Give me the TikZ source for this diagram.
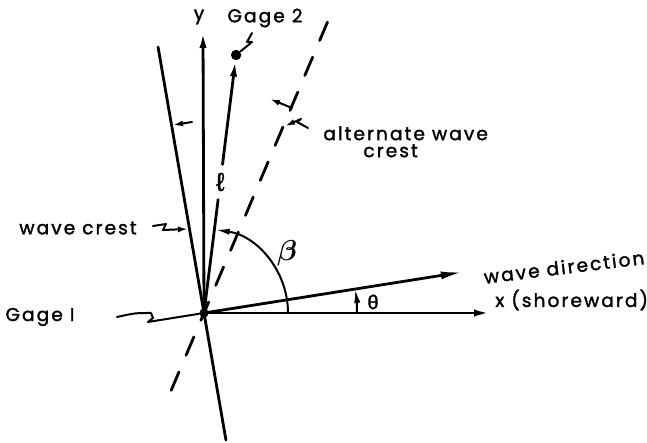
\documentclass[tikz,border=0pt]{standalone}
\usepackage{amsmath}
\usepackage{fontspec}
\newfontfamily\lettering[LetterSpace=11, FakeBold=1.6]{Poppins}
\newfontfamily\greekletter[FakeBold=1.6]{Liberation Sans}
\usetikzlibrary{arrows.meta, calc}

\begin{document}
\begin{tikzpicture}[
    x=0.5pt, y=0.5pt,
    line cap=round,
    axis/.style={-{Latex[length=8pt,width=3.6pt]}, line width=1.4pt},
    crest/.style={line width=1.4pt},
    angarc/.style={-{Latex[length=7pt,width=3.2pt]}, line width=1pt},
    lead/.style={line width=1pt, line join=round},
    leadarr/.style={lead, -{Latex[length=5pt,width=3pt]}},
    label/.style={font=\lettering\fontsize{9.3}{8.5}\selectfont, inner sep=0pt},
    greek/.style={font=\greekletter\fontsize{10}{12}\selectfont, inner sep=0pt},
    dot/.style={circle, fill, inner sep=0pt, minimum size=#1}
  ]
  \useasboundingbox (0,0) rectangle (647,443);

  \coordinate (O) at (204,130);
  \coordinate (xend) at (490,130);
  \coordinate (yend) at (203,411);
  \coordinate (wdir) at ($(O)+(9:262)$);
  \coordinate (crtop) at ($(O)+(99.8:270)$);
  \coordinate (crbot) at ($(O)+(-80.2:129)$);
  \coordinate (altop) at ($(O)+(67:324)$);
  \coordinate (albot) at ($(O)+(247:84)$);

  \node[dot=4.6pt] (g1) at (O) {};
  \node[dot=5.2pt] (g2) at ($(O)+(82.9:260)$) {};
  \node[greek, font=\greekletter\fontsize{13}{14}\selectfont, inner ysep=4pt] (ell) at ($(O)+(82.9:132)$) {ℓ};

  \draw[crest] (crbot) -- (crtop);
  \draw[crest, dash pattern=on 10pt off 9pt] (albot) -- (altop);
  \draw[axis] (O) -- (xend);
  \draw[axis] (O) -- (yend);
  \draw[axis, -{Latex[length=11pt,width=4pt]}] (O) -- (wdir);
  \draw[crest] (O) -- (ell);
  \draw[axis] (ell) -- (g2);

  \draw[angarc] ($(O)+(84,0)$) arc[start angle=0, end angle=82, radius=84];
  \draw[angarc] ($(O)+(153,0)$) arc[start angle=0, end angle=9, radius=153];

  \node[label] (ylab) at (199,426) {y};
  \node[label] (g2lab) at (265,425) {Gage 2};
  \node[label] (crestlab) at (78,215) {wave crest};
  \node[label] (g1lab) at (40,126) {Gage I};
  \node[label, align=left, anchor=north west] (altlab) at (323,317) {alternate wave\\\hspace*{20pt}crest};
  \node[label, anchor=west] (xlab) at (495,143) {x (shoreward)};
  \node[label, rotate=7] (wdlab) at (564,176) {wave direction};
  \node (beta) at (287,190) {\Large$\boldsymbol{\beta}$};
  \node[greek] (theta) at (373,141) {θ};

  \draw[lead] (g2) -- (252,401) -- (247,401) -- (252,410);
  \draw[leadarr] (153,217) -- (166,219) -- (163,213) -- (188,214);
  \draw[lead] (117,126) .. controls (135,130) .. (151,130) -- (153,125) -- (148,121) -- (g1);
  \draw[leadarr] (308,315) -- (297,321) -- (301,324) -- (285,317);

  \draw[leadarr] (192,321) -- (173,318);
  \draw[leadarr] (292,335) -- (270,344);
\end{tikzpicture}
\end{document}
